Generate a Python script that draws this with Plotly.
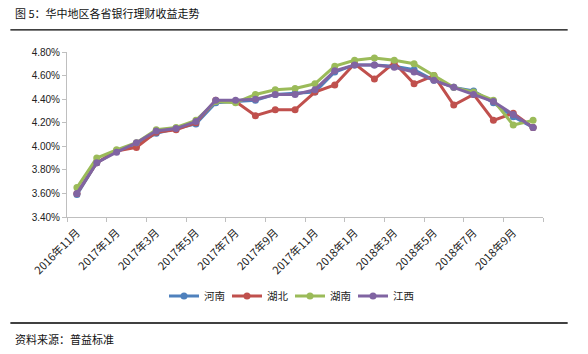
import plotly.graph_objects as go

months = ["2016年11月", "2016年12月",
          "2017年1月", "2017年2月", "2017年3月", "2017年4月", "2017年5月", "2017年6月",
          "2017年7月", "2017年8月", "2017年9月", "2017年10月", "2017年11月", "2017年12月",
          "2018年1月", "2018年2月", "2018年3月", "2018年4月", "2018年5月", "2018年6月",
          "2018年7月", "2018年8月", "2018年9月", "2018年10月"]

henan = [3.59, 3.86, 3.96, 4.02, 4.11, 4.15, 4.19, 4.37, 4.38, 4.39, 4.44, 4.45,
         4.46, 4.63, 4.69, 4.69, 4.68, 4.65, 4.56, 4.50, 4.47, 4.37, 4.25, 4.16]
hubei = [3.60, 3.86, 3.96, 3.99, 4.12, 4.14, 4.20, 4.39, 4.38, 4.26, 4.31, 4.31,
         4.46, 4.52, 4.70, 4.57, 4.71, 4.53, 4.60, 4.35, 4.44, 4.22, 4.28, 4.16]
hunan = [3.65, 3.90, 3.97, 4.03, 4.14, 4.16, 4.22, 4.38, 4.37, 4.44, 4.48, 4.49,
         4.53, 4.68, 4.73, 4.75, 4.73, 4.70, 4.60, 4.50, 4.46, 4.39, 4.18, 4.22]
jiangxi = [3.60, 3.86, 3.95, 4.03, 4.13, 4.15, 4.21, 4.39, 4.39, 4.40, 4.44, 4.44,
           4.48, 4.64, 4.69, 4.69, 4.67, 4.63, 4.56, 4.50, 4.44, 4.38, 4.27, 4.16]

series = [("河南", henan, "#4F81BD"), ("湖北", hubei, "#C0504D"),
          ("湖南", hunan, "#9BBB59"), ("江西", jiangxi, "#8064A2")]

W, H = 588, 354
L, R, T, B = 66.7, 44.7, 52.3, 137.3
pw, ph = W - L - R, H - T - B

x = list(range(len(months)))

fig = go.Figure()
for name, vals, col in series:
    fig.add_trace(go.Scatter(x=x, y=vals, name=name, mode="lines+markers",
                             line=dict(color=col, width=3),
                             marker=dict(color=col, size=7)))

cjk = "Noto Sans CJK SC"
fig.update_layout(
    width=W, height=H,
    margin=dict(l=L, r=R, t=T, b=B, pad=0, autoexpand=False),
    paper_bgcolor="white", plot_bgcolor="white",
    font=dict(family=cjk, size=10, color="#222"),
    showlegend=True,
    legend=dict(orientation="h", xref="container", yref="container",
                x=290 / W, y=1 - 296 / H, xanchor="center", yanchor="middle",
                font=dict(family=cjk, size=10.5, color="#222"),
                entrywidth=18, itemwidth=30, bgcolor="rgba(0,0,0,0)"),
    xaxis=dict(range=[-0.5, len(months) - 0.5], automargin=False,
               tickvals=x[::2], ticktext=months[::2], tickangle=-45,
               ticks="", showgrid=False, zeroline=False,
               showline=True, linecolor="#BFBFBF", linewidth=1,
               ticklabelstandoff=4,
               tickfont=dict(family=cjk, size=11, color="#222"),
               minor=dict(tick0=-0.5, dtick=2, ticks="outside", ticklen=4,
                          tickcolor="#BFBFBF", showgrid=False)),
    yaxis=dict(range=[3.4, 4.8], dtick=0.2, tick0=3.4, tickformat=".2f", ticksuffix="%",
               automargin=False,
               ticks="outside", ticklen=4, tickcolor="#BFBFBF",
               showgrid=False, zeroline=False,
               showline=True, linecolor="#BFBFBF", linewidth=1,
               tickfont=dict(family="Liberation Sans", size=10, color="#222")),
)

def px_x(p):
    return (p - L) / pw

def px_y(p):
    return (H - B - p) / ph

for yy in (30.3, 322.3):
    fig.add_shape(type="line", xref="paper", yref="paper",
                  x0=px_x(10), x1=px_x(568), y0=px_y(yy), y1=px_y(yy),
                  line=dict(color="black", width=1.3))

fig.add_annotation(text="图 5：华中地区各省银行理财收益走势", xref="paper", yref="paper",
                   x=px_x(13), y=px_y(13), xanchor="left", yanchor="middle",
                   showarrow=False, font=dict(family=cjk, size=11, color="#111"))
fig.add_annotation(text="资料来源：普益标准", xref="paper", yref="paper",
                   x=px_x(13), y=px_y(338), xanchor="left", yanchor="middle",
                   showarrow=False, font=dict(family=cjk, size=11, color="#111"))

fig.write_html("out.html")
